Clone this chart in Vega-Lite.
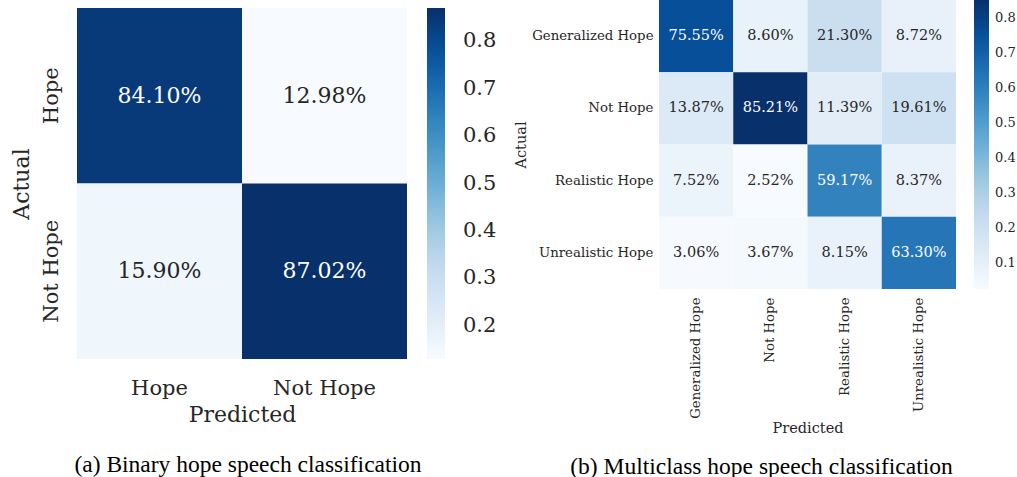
{
  "$schema": "https://vega.github.io/schema/vega-lite/v6.json",
  "padding": {"left": 10, "top": 0, "right": 0, "bottom": 0},
  "autosize": {"type": "pad"},
  "background": "white",
  "config": {
    "view": {"stroke": null},
    "axis": {"grid": false, "ticks": false, "domain": false, "labelFont": "DejaVu Serif", "titleFont": "DejaVu Serif", "titleFontWeight": "normal", "labelColor": "#262626", "titleColor": "#262626"},
    "legend": {"labelFont": "DejaVu Serif", "labelColor": "#262626"}
  },
  "datasets": {
    "binary": [
      {"actual": "Hope", "predicted": "Hope", "value": 0.8410},
      {"actual": "Hope", "predicted": "Not Hope", "value": 0.1298},
      {"actual": "Not Hope", "predicted": "Hope", "value": 0.1590},
      {"actual": "Not Hope", "predicted": "Not Hope", "value": 0.8702}
    ],
    "multi": [
      {"actual": "Generalized Hope", "predicted": "Generalized Hope", "value": 0.7555},
      {"actual": "Generalized Hope", "predicted": "Not Hope", "value": 0.0860},
      {"actual": "Generalized Hope", "predicted": "Realistic Hope", "value": 0.2130},
      {"actual": "Generalized Hope", "predicted": "Unrealistic Hope", "value": 0.0872},
      {"actual": "Not Hope", "predicted": "Generalized Hope", "value": 0.1387},
      {"actual": "Not Hope", "predicted": "Not Hope", "value": 0.8521},
      {"actual": "Not Hope", "predicted": "Realistic Hope", "value": 0.1139},
      {"actual": "Not Hope", "predicted": "Unrealistic Hope", "value": 0.1961},
      {"actual": "Realistic Hope", "predicted": "Generalized Hope", "value": 0.0752},
      {"actual": "Realistic Hope", "predicted": "Not Hope", "value": 0.0252},
      {"actual": "Realistic Hope", "predicted": "Realistic Hope", "value": 0.5917},
      {"actual": "Realistic Hope", "predicted": "Unrealistic Hope", "value": 0.0837},
      {"actual": "Unrealistic Hope", "predicted": "Generalized Hope", "value": 0.0306},
      {"actual": "Unrealistic Hope", "predicted": "Not Hope", "value": 0.0367},
      {"actual": "Unrealistic Hope", "predicted": "Realistic Hope", "value": 0.0815},
      {"actual": "Unrealistic Hope", "predicted": "Unrealistic Hope", "value": 0.6330}
    ]
  },
  "spacing": 252,
  "bounds": "flush",
  "resolve": {"scale": {"color": "independent"}},
  "hconcat": [
    {
      "width": 330,
      "height": 359,
      "data": {"name": "binary"},
      "title": {"text": "(a) Binary hope speech classification", "orient": "bottom", "anchor": "middle", "font": "Liberation Serif", "fontSize": 23.5, "fontWeight": "normal", "color": "#000000", "offset": 28, "dx": 6},
      "encoding": {
        "x": {"field": "predicted", "type": "nominal", "sort": ["Hope", "Not Hope"],
              "scale": {"paddingInner": 0, "paddingOuter": 0},
              "axis": {"title": "Predicted", "labelAngle": 0, "labelFontSize": 21, "titleFontSize": 22, "labelPadding": 18, "titlePadding": 6}},
        "y": {"field": "actual", "type": "nominal", "sort": ["Hope", "Not Hope"],
              "scale": {"range": [8, 359], "paddingInner": 0, "paddingOuter": 0},
              "axis": {"title": "Actual", "labelAngle": 270, "labelAlign": "center", "labelBaseline": "bottom", "labelFontSize": 21, "titleFontSize": 22, "labelPadding": 16, "titlePadding": 7}}
      },
      "layer": [
        {
          "mark": {"type": "rect", "strokeWidth": 0},
          "encoding": {
            "color": {"field": "value", "type": "quantitative",
                      "scale": {"domain": [0.1298, 0.22235, 0.3149, 0.40745, 0.5, 0.59255, 0.6851, 0.77765, 0.8702],
                                "range": ["#f7fbff", "#deebf7", "#c6dbef", "#9ecae1", "#6baed6", "#4292c6", "#2171b5", "#08519c", "#08306b"],
                                "interpolate": "rgb"},
                      "legend": {"orient": "none", "legendX": 350, "legendY": 8, "direction": "vertical", "gradientLength": 351, "gradientThickness": 18, "gradientStrokeWidth": 0, "title": null, "values": [0.2, 0.3, 0.4, 0.5, 0.6, 0.7, 0.8], "format": ".1f", "labelFontSize": 21, "labelOffset": 18, "labelOverlap": false}}
          }
        },
        {
          "mark": {"type": "text", "font": "DejaVu Serif", "fontSize": 22, "baseline": "middle", "align": "center"},
          "encoding": {
            "text": {"field": "value", "type": "quantitative", "format": ".2%"},
            "color": {"condition": {"test": "datum.value > 0.45", "value": "#ffffff"}, "value": "#262626"}
          }
        }
      ]
    },
    {
      "width": 297,
      "height": 289,
      "data": {"name": "multi"},
      "title": {"text": "(b) Multiclass hope speech classification", "orient": "bottom", "anchor": "middle", "font": "Liberation Serif", "fontSize": 23.5, "fontWeight": "normal", "color": "#000000", "offset": 20, "dx": -46},
      "encoding": {
        "x": {"field": "predicted", "type": "nominal", "sort": ["Generalized Hope", "Not Hope", "Realistic Hope", "Unrealistic Hope"],
              "scale": {"paddingInner": 0, "paddingOuter": 0},
              "axis": {"title": "Predicted", "labelAngle": 270, "labelFontSize": 13.3, "titleFontSize": 14.5, "labelPadding": 8, "titlePadding": 3}},
        "y": {"field": "actual", "type": "nominal", "sort": ["Generalized Hope", "Not Hope", "Realistic Hope", "Unrealistic Hope"],
              "scale": {"paddingInner": 0, "paddingOuter": 0},
              "axis": {"title": "Actual", "labelAngle": 0, "labelFontSize": 13.3, "titleFontSize": 14.5, "labelPadding": 6, "titlePadding": 3}}
      },
      "layer": [
        {
          "mark": {"type": "rect", "strokeWidth": 0},
          "encoding": {
            "color": {"field": "value", "type": "quantitative",
                      "scale": {"domain": [0.0252, 0.1285625, 0.231925, 0.3352875, 0.43865, 0.5420125, 0.645375, 0.7487375, 0.8521],
                                "range": ["#f7fbff", "#deebf7", "#c6dbef", "#9ecae1", "#6baed6", "#4292c6", "#2171b5", "#08519c", "#08306b"],
                                "interpolate": "rgb"},
                      "legend": {"orient": "none", "legendX": 315, "legendY": 0, "direction": "vertical", "gradientLength": 289, "gradientThickness": 15, "gradientStrokeWidth": 0, "title": null, "values": [0.1, 0.2, 0.3, 0.4, 0.5, 0.6, 0.7, 0.8], "format": ".1f", "labelFontSize": 13, "labelOffset": 6, "labelOverlap": false}}
          }
        },
        {
          "mark": {"type": "text", "font": "DejaVu Serif", "fontSize": 14.5, "baseline": "middle", "align": "center"},
          "encoding": {
            "text": {"field": "value", "type": "quantitative", "format": ".2%"},
            "color": {"condition": {"test": "datum.value > 0.45", "value": "#ffffff"}, "value": "#262626"}
          }
        }
      ]
    }
  ]
}
